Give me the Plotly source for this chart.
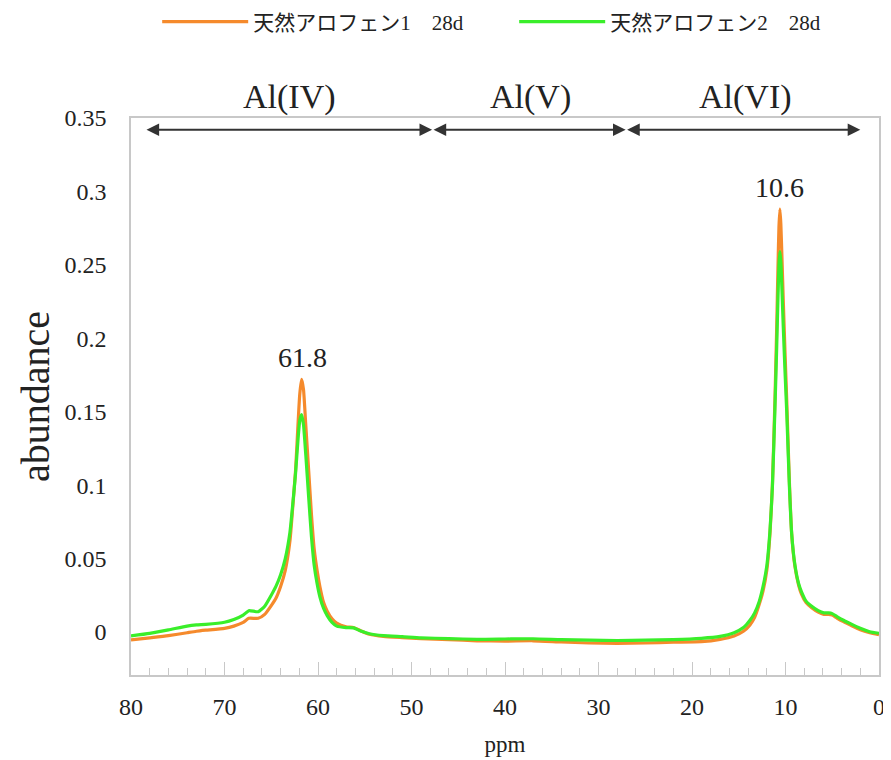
import plotly.graph_objects as go

ppm = [80, 78, 76, 74, 73, 72, 70, 69, 68, 67.4, 66.4, 65.7, 65.0, 64.5, 64.0, 63.5, 63.0, 62.7,
       62.4, 62.15, 61.95, 61.75, 61.55, 61.3, 61.0, 60.7, 60.4, 60.1, 59.8, 59.4, 59.0, 58.5,
       58.0, 57.0, 56.2, 55.5, 54.5, 53, 51, 49, 46, 43, 40, 37, 34, 31, 28, 25, 22, 19, 17,
       15.5, 14.5, 13.8, 13.3, 12.8, 12.4, 12.0, 11.66, 11.4, 11.13, 10.95, 10.8, 10.7, 10.6,
       10.5, 10.38, 10.24, 10.05, 9.87, 9.6, 9.34, 9.0, 8.6, 8.3, 7.8, 7.2, 6.5, 5.9, 5.4, 5.0,
       4.5, 3.8, 3.0, 2.0, 1.0, 0.0]

allophane1 = [-0.0054, -0.0040, -0.0025, -0.0005, 0.0005, 0.0012, 0.0025, 0.0040, 0.0065, 0.0093,
              0.0093, 0.0120, 0.0180, 0.0230, 0.0310, 0.0420, 0.0620, 0.0850, 0.1100, 0.1400,
              0.1620, 0.1720, 0.1650, 0.1400, 0.1100, 0.0800, 0.0560, 0.0420, 0.0310, 0.0200,
              0.0140, 0.0090, 0.0060, 0.0035, 0.0030, 0.0010, -0.0015, -0.0030, -0.0038, -0.0045,
              -0.0052, -0.0060, -0.0062, -0.0060, -0.0068, -0.0075, -0.0077, -0.0075, -0.0070,
              -0.0066, -0.0050, -0.0027, 0.0005, 0.0048, 0.0100, 0.0190, 0.0280, 0.0420, 0.0670,
              0.1000, 0.1580, 0.2050, 0.2500, 0.2760, 0.2880, 0.2780, 0.2550, 0.2260, 0.1900,
              0.1580, 0.1050, 0.0670, 0.0450, 0.0320, 0.0260, 0.0200, 0.0165, 0.0135, 0.0120,
              0.0120, 0.0115, 0.0095, 0.0070, 0.0045, 0.0015, -0.0005, -0.0018]

allophane2 = [-0.0027, -0.0010, 0.0014, 0.0040, 0.0048, 0.0052, 0.0066, 0.0085, 0.0115, 0.0145,
              0.0138, 0.0175, 0.0250, 0.0310, 0.0390, 0.0500, 0.0680, 0.0870, 0.1080, 0.1300,
              0.1440, 0.1480, 0.1410, 0.1200, 0.0920, 0.0650, 0.0450, 0.0330, 0.0240, 0.0160,
              0.0110, 0.0065, 0.0040, 0.0030, 0.0028, 0.0008, -0.0012, -0.0025, -0.0032, -0.0040,
              -0.0045, -0.0050, -0.0048, -0.0046, -0.0052, -0.0056, -0.0058, -0.0056, -0.0052,
              -0.0043, -0.0030, -0.0005, 0.0030, 0.0080, 0.0130, 0.0210, 0.0310, 0.0450, 0.0690,
              0.0990, 0.1520, 0.1920, 0.2290, 0.2500, 0.2590, 0.2520, 0.2330, 0.2080, 0.1770,
              0.1500, 0.1020, 0.0670, 0.0460, 0.0330, 0.0275, 0.0210, 0.0175, 0.0145, 0.0130,
              0.0130, 0.0125, 0.0105, 0.0080, 0.0055, 0.0025, 0.0002, -0.0009]

series_names = ["天然アロフェン1　28d", "天然アロフェン2　28d"]
series_colors = ["#F58A2C", "#3AEE2A"]

region_labels = ["Al(IV)", "Al(V)", "Al(VI)"]
region_bounds = [(78.5, 47.8), (47.8, 27.1), (27.1, 2.0)]
region_label_x = [63.0, 37.3, 14.3]

peak_labels = ["61.8", "10.6"]
peak_label_x = [61.7, 10.6]
peak_label_y = [0.1866, 0.3025]

x_ticks = [80, 70, 60, 50, 40, 30, 20, 10, 0]
y_ticks = [0, 0.05, 0.1, 0.15, 0.2, 0.25, 0.3, 0.35]
y_tick_text = ["0", "0.05", "0.1", "0.15", "0.2", "0.25", "0.3", "0.35"]

SERIF = "Liberation Serif, Times New Roman, Noto Sans CJK JP, serif"
TXT = "#222222"
AX = "#C8C8C8"

fig = go.Figure()
for vals, name, col in zip([allophane1, allophane2], series_names, series_colors):
    fig.add_trace(go.Scatter(x=ppm, y=vals, mode="lines", name=name,
                             line=dict(color=col, width=3.2, shape="spline", smoothing=0.5)))

annotations = []
for (a, b) in region_bounds:
    annotations.append(dict(x=b, y=0.342, ax=a, ay=0.342, xref="x", yref="y", axref="x", ayref="y",
                            text="", showarrow=True, arrowhead=2, arrowsize=1.4, arrowwidth=1.8,
                            arrowside="end+start", arrowcolor="#333333"))
for lab, xx in zip(region_labels, region_label_x):
    annotations.append(dict(x=xx, y=1.0377, xref="x", yref="paper", text=lab, showarrow=False,
                            font=dict(family=SERIF, size=34, color=TXT),
                            xanchor="center", yanchor="middle"))
for lab, xx, yy in zip(peak_labels, peak_label_x, peak_label_y):
    annotations.append(dict(x=xx, y=yy, xref="x", yref="y", text=lab, showarrow=False,
                            font=dict(family=SERIF, size=28, color=TXT),
                            xanchor="center", yanchor="middle"))

fig.update_layout(
    width=883, height=752,
    margin=dict(l=123, r=12, t=110, b=85, autoexpand=False),
    paper_bgcolor="white", plot_bgcolor="white",
    font=dict(family=SERIF, color=TXT),
    showlegend=True,
    legend=dict(orientation="h", x=0.035, xanchor="left", y=1.1724, yanchor="middle",
                font=dict(family=SERIF, size=21, color=TXT), itemwidth=86,
                entrywidth=256, entrywidthmode="pixels",
                traceorder="normal", bgcolor="rgba(0,0,0,0)"),
    annotations=annotations,
    xaxis=dict(range=[80, 0], tickvals=x_ticks, showgrid=False, zeroline=False, automargin=False,
               showline=True, linecolor=AX, linewidth=1.5, mirror=True,
               ticks="inside", ticklen=13, tickcolor=AX, tickwidth=1,
               minor=dict(dtick=2, ticks="inside", ticklen=7, tickcolor=AX, tickwidth=1),
               tickfont=dict(family=SERIF, size=24, color=TXT), ticklabelstandoff=9,
               title=dict(text="ppm", font=dict(family=SERIF, size=23, color=TXT), standoff=17)),
    yaxis=dict(range=[-0.0293, 0.35], tickvals=y_ticks, ticktext=y_tick_text, showgrid=False,
               zeroline=False, automargin=False, showline=True, linecolor=AX, linewidth=1.5, mirror=True,
               ticks="", tickfont=dict(family=SERIF, size=24, color=TXT), ticklabelstandoff=18,
               title=dict(text="abundance", font=dict(family=SERIF, size=40, color=TXT), standoff=2)),
)

fig.write_html("out.html")
